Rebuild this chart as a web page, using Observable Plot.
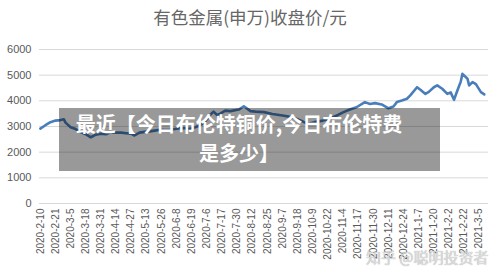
<!DOCTYPE html>
<html>
<head>
<meta charset="utf-8">
<script src="https://cdn.jsdelivr.net/npm/d3@7"></script>
<script src="https://cdn.jsdelivr.net/npm/@observablehq/plot@0.6"></script>
<style>
  html, body { margin: 0; padding: 0; background: #fff; }
  #wrap { position: relative; width: 500px; height: 279px; overflow: hidden;
          font-family: "Liberation Sans", "Noto Sans CJK SC", sans-serif; }
  #title { height: 36px; line-height: 34px; text-align: center; font-size: 17.5px; color: #666;
           font-family: "Noto Sans CJK SC", sans-serif; }
  #overlay { position: absolute; left: 59px; top: 108px; width: 381px; height: 63px;
             background: rgba(0,0,0,0.4); }
  #overlay div { position: absolute; left: 0; width: 360px; text-align: center; color: #fff;
                 font-weight: bold; font-size: 20px; font-family: "Noto Sans CJK SC", sans-serif; line-height: 27px; }
  #wm { position: absolute; left: 366px; top: 246px; font-size: 15px; color: #d8d8d8;
        font-family: "Noto Sans CJK SC", sans-serif; text-shadow: 0 0 1px #999; opacity: 0.9; }
</style>
</head>
<body>
<div id="wrap">
  <div id="title">有色金属(申万)收盘价/元</div>
  <div id="chart"></div>
  <div id="overlay"><div style="top:2px">最近【今日布伦特铜价,今日布伦特费</div><div style="top:31px">是多少】</div></div>
  <div id="wm">知乎 @聪明投资者</div>
</div>
<script>
// Category tick labels (every 9th trading day)
const tickLabels = ["2020-2-10","2020-2-21","2020-3-5","2020-3-18","2020-3-31","2020-4-14","2020-4-27","2020-5-13","2020-5-26","2020-6-8","2020-6-19","2020-7-6","2020-7-17","2020-7-30","2020-8-12","2020-8-25","2020-9-7","2020-9-18","2020-10-9","2020-10-22","2020-11-4","2020-11-17","2020-11-30","2020-12-11","2020-12-24","2021-1-7","2021-1-20","2021-2-2","2021-2-22","2021-3-5"];
const tickStep = 9;
// Trading-day index of each sampled point
const dayIndex = [0,3,6,9,12,14,15,18,21,24,27,30,33,36,39,42,45,48,51,54,56,59,62,65,68,71,74,77,80,83,86,89,92,95,98,101,103,105,107,110,113,118,121,125,128,133,138,144,150,155,159,163,168,172,177,180,184,188,193,196,199,203,207,210,212,215,218,220,224,226,229,231,234,236,239,242,244,246,248,250,251,254,255,257,259,262,264];
// Closing price (yuan)
const closePrice = [2920,3050,3170,3230,3250,3280,3150,2970,2900,2780,2700,2580,2680,2720,2700,2780,2760,2760,2740,2720,2650,2760,2790,2810,2840,2870,2860,2870,2900,2930,2930,2910,2970,3040,3200,3450,3580,3450,3500,3620,3600,3660,3790,3600,3580,3560,3490,3430,3360,3230,3100,3170,3230,3300,3450,3550,3660,3750,3950,3880,3910,3860,3710,3780,3950,4010,4080,4210,4530,4430,4270,4350,4530,4600,4470,4270,4330,4040,4400,4750,5050,4860,4600,4730,4650,4340,4250];
const yTicks = [0,1000,2000,3000,4000,5000,6000];

const data = dayIndex.map((d, i) => ({x: d, y: closePrice[i]}));
const tickPos = tickLabels.map((_, i) => i * tickStep);

const chart = Plot.plot({
  width: 500,
  height: 243,
  marginTop: 13,
  marginBottom: 76,
  marginLeft: 39,
  marginRight: 12,
  style: {fontFamily: "Liberation Sans, Noto Sans CJK SC, sans-serif", color: "#595959", background: "transparent"},
  x: {domain: [-0.5, 266.5], label: null},
  y: {domain: [0, 6000], label: null},
  marks: [
    Plot.gridY(yTicks, {stroke: "#d9d9d9", strokeOpacity: 1, strokeWidth: 1}),
    Plot.axisY({ticks: yTicks, tickFormat: (d) => String(d), tickSize: 0, tickPadding: 8, fontSize: 11, label: null}),
    Plot.axisX({ticks: tickPos, tickFormat: (d) => tickLabels[d / tickStep], tickRotate: -90, tickSize: 0, tickPadding: 5, fontSize: 10, label: null}),
    Plot.line(data, {x: "x", y: "y", stroke: "#4a7ebb", strokeWidth: 2.6, strokeLinejoin: "round"})
  ]
});
document.getElementById("chart").appendChild(chart);
</script>
</body>
</html>
